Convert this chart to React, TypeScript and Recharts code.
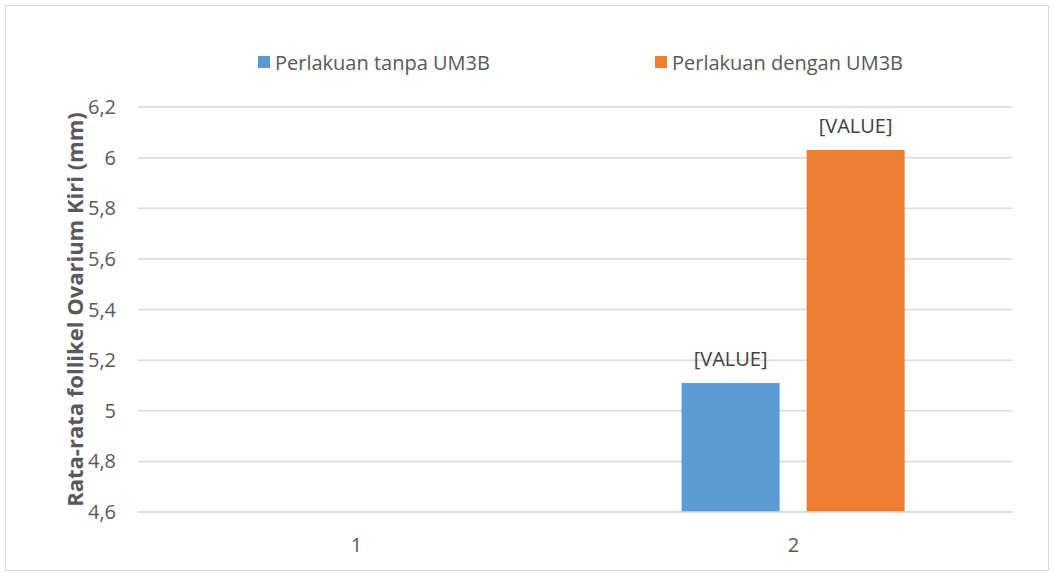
import { Bar, BarChart, CartesianGrid, LabelList, XAxis, YAxis } from 'recharts'

const categories = ['1', '2']
const tanpaUM3B: (number | null)[] = [null, 5.11]
const denganUM3B: (number | null)[] = [null, 6.03]
const yTicks = [4.6, 4.8, 5, 5.2, 5.4, 5.6, 5.8, 6, 6.2]

const SERIES = [
  { key: 'tanpa', name: 'Perlakuan tanpa UM3B', color: '#5B9BD5', left: 258 },
  { key: 'dengan', name: 'Perlakuan dengan UM3B', color: '#ED7D31', left: 655 },
]

const FONT = '"Open Sans", sans-serif'
const TEXT = '#595959'

const fmt = (v: number) => String(Number(v.toFixed(1))).replace('.', ',')

export default function App() {
  const data = categories.map((c, i) => ({
    cat: c,
    tanpa: tanpaUM3B[i],
    dengan: denganUM3B[i],
  }))

  return (
    <div
      style={{
        position: 'absolute',
        left: 0,
        top: 0,
        width: 1054,
        height: 576,
        background: '#fff',
        fontFamily: FONT,
      }}
    >
      <div
        style={{
          position: 'absolute',
          left: 5,
          top: 5,
          width: 1042,
          height: 564,
          border: '1px solid #D9D9D9',
        }}
      />
      {/* legend, laid out like the Excel one */}
      {SERIES.map((s) => (
        <div
          key={s.key}
          style={{
            position: 'absolute',
            left: s.left,
            top: 48,
            height: 28,
            display: 'flex',
            alignItems: 'center',
            fontSize: 20,
            color: TEXT,
            whiteSpace: 'nowrap',
          }}
        >
          <span style={{ width: 12, height: 12, background: s.color, marginRight: 5, display: 'inline-block' }} />
          {s.name}
        </div>
      ))}
      <BarChart
        width={1054}
        height={576}
        data={data}
        margin={{ top: 107, right: 42, bottom: 34, left: 60 }}
        barCategoryGap="24.4%"
        barGap={27}
        style={{ position: 'absolute', left: 0, top: 0 }}
      >
        <CartesianGrid vertical={false} stroke="#D9D9D9" strokeWidth={1.5} />
        <XAxis
          dataKey="cat"
          height={30}
          axisLine={{ stroke: '#D9D9D9', strokeWidth: 1.5 }}
          tickLine={false}
          tickSize={0}
          tickMargin={26}
          tick={{ fontFamily: FONT, fontSize: 20, fill: TEXT }}
        />
        <YAxis
          domain={[4.6, 6.2]}
          ticks={yTicks}
          allowDataOverflow
          width={78}
          axisLine={false}
          tickLine={false}
          tickSize={0}
          tickMargin={22}
          tickFormatter={fmt}
          tick={{ fontFamily: FONT, fontSize: 20, fill: TEXT }}
          label={{
            value: 'Rata-rata follikel Ovarium Kiri (mm)',
            angle: -90,
            position: 'insideLeft',
            offset: 15,
            style: { fontFamily: FONT, fontSize: 22, fontWeight: 700, fill: TEXT, textAnchor: 'middle' },
          }}
        />
        {SERIES.map((s) => (
          <Bar key={s.key} dataKey={s.key} name={s.name} fill={s.color} isAnimationActive={false}>
            <LabelList
              dataKey={s.key}
              position="top"
              offset={17}
              formatter={() => '[VALUE]'}
              style={{ fontFamily: FONT, fontSize: 20, fill: '#404040' }}
            />
          </Bar>
        ))}
      </BarChart>
    </div>
  )
}
